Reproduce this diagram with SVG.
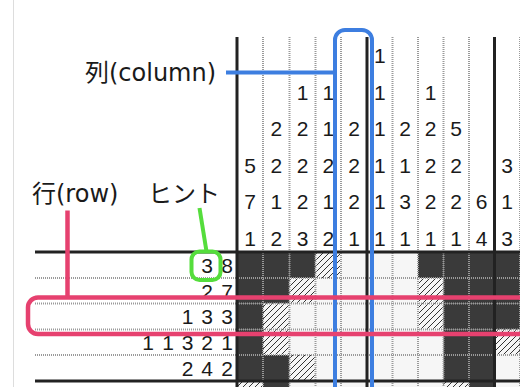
<svg xmlns="http://www.w3.org/2000/svg" width="520" height="387" viewBox="0 0 520 387">
<style>
.B{fill:#3a3a3a}
.W{fill:#f6f6f6}
.H{fill:url(#hatch)}
.thick{stroke:#222;stroke-width:3;fill:none}
.dot{stroke:#9a9a9a;stroke-width:2;stroke-dasharray:1 1;fill:none}
.hint{font-family:"Liberation Sans",Arial,sans-serif;font-size:21px;fill:#1a1a1a;text-anchor:middle}
.lbl{font-family:"DejaVu Sans","Noto Sans CJK JP",sans-serif;font-size:24px;fill:#1a1a1a}
.blue{stroke:#3d7ee0;stroke-width:4;fill:none}
.pink{stroke:#e6416f;stroke-width:4.5;fill:none}
.green{stroke:#55dd3c;stroke-width:4;fill:none}
</style>
<defs>
<pattern id="hatch" patternUnits="userSpaceOnUse" width="6" height="6">
<rect width="6" height="6" fill="#f6f6f6"/>
<path d="M0,6 L6,0 M-1,1 L1,-1 M5,7 L7,5" stroke="#333" stroke-width="1"/>
</pattern>
</defs>
<rect width="520" height="387" fill="#fff"/>
<line x1="13.5" y1="0" x2="13.5" y2="387" stroke="#ddd" stroke-width="1"/>
<g id="grid">
<!-- row 1 -->
<rect class="B" x="237" y="252" width="26" height="26"/>
<rect class="B" x="263" y="252" width="26.5" height="26"/>
<rect class="B" x="289.5" y="252" width="26" height="26"/>
<rect class="H" x="315.5" y="252" width="25.5" height="26"/>
<rect class="W" x="341" y="252" width="26" height="26"/>
<rect class="W" x="367" y="252" width="25.5" height="26"/>
<rect class="W" x="392.5" y="252" width="25.5" height="26"/>
<rect class="B" x="418" y="252" width="25.5" height="26"/>
<rect class="B" x="443.5" y="252" width="25.5" height="26"/>
<rect class="B" x="469" y="252" width="25.5" height="26"/>
<rect class="B" x="494.5" y="252" width="25.5" height="26"/>
<!-- row 2 -->
<rect class="B" x="237" y="278" width="26" height="25.5"/>
<rect class="B" x="263" y="278" width="26.5" height="25.5"/>
<rect class="H" x="289.5" y="278" width="26" height="25.5"/>
<rect class="W" x="315.5" y="278" width="25.5" height="25.5"/>
<rect class="W" x="341" y="278" width="26" height="25.5"/>
<rect class="W" x="367" y="278" width="25.5" height="25.5"/>
<rect class="W" x="392.5" y="278" width="25.5" height="25.5"/>
<rect class="H" x="418" y="278" width="25.5" height="25.5"/>
<rect class="B" x="443.5" y="278" width="25.5" height="25.5"/>
<rect class="B" x="469" y="278" width="25.5" height="25.5"/>
<rect class="B" x="494.5" y="278" width="25.5" height="25.5"/>
<!-- row 3 -->
<rect class="B" x="237" y="303.5" width="26" height="26"/>
<rect class="H" x="263" y="303.5" width="26.5" height="26"/>
<rect class="W" x="289.5" y="303.5" width="26" height="26"/>
<rect class="W" x="315.5" y="303.5" width="25.5" height="26"/>
<rect class="W" x="341" y="303.5" width="26" height="26"/>
<rect class="W" x="367" y="303.5" width="25.5" height="26"/>
<rect class="W" x="392.5" y="303.5" width="25.5" height="26"/>
<rect class="H" x="418" y="303.5" width="25.5" height="26"/>
<rect class="B" x="443.5" y="303.5" width="25.5" height="26"/>
<rect class="B" x="469" y="303.5" width="25.5" height="26"/>
<rect class="B" x="494.5" y="303.5" width="25.5" height="26"/>
<!-- row 4 -->
<rect class="B" x="237" y="329.5" width="26" height="25.5"/>
<rect class="H" x="263" y="329.5" width="26.5" height="25.5"/>
<rect class="W" x="289.5" y="329.5" width="26" height="25.5"/>
<rect class="W" x="315.5" y="329.5" width="25.5" height="25.5"/>
<rect class="W" x="341" y="329.5" width="26" height="25.5"/>
<rect class="W" x="367" y="329.5" width="25.5" height="25.5"/>
<rect class="W" x="392.5" y="329.5" width="25.5" height="25.5"/>
<rect class="W" x="418" y="329.5" width="25.5" height="25.5"/>
<rect class="B" x="443.5" y="329.5" width="25.5" height="25.5"/>
<rect class="B" x="469" y="329.5" width="25.5" height="25.5"/>
<rect class="H" x="494.5" y="329.5" width="25.5" height="25.5"/>
<!-- row 5 -->
<rect class="B" x="237" y="355" width="26" height="26"/>
<rect class="B" x="263" y="355" width="26.5" height="26"/>
<rect class="H" x="289.5" y="355" width="26" height="26"/>
<rect class="W" x="315.5" y="355" width="25.5" height="26"/>
<rect class="W" x="341" y="355" width="26" height="26"/>
<rect class="W" x="367" y="355" width="25.5" height="26"/>
<rect class="W" x="392.5" y="355" width="25.5" height="26"/>
<rect class="W" x="418" y="355" width="25.5" height="26"/>
<rect class="B" x="443.5" y="355" width="25.5" height="26"/>
<rect class="B" x="469" y="355" width="25.5" height="26"/>
<rect class="W" x="494.5" y="355" width="25.5" height="26"/>
<!-- row 6 -->
<rect class="H" x="237" y="381" width="26" height="26"/>
<rect class="B" x="263" y="381" width="26.5" height="26"/>
<rect class="W" x="289.5" y="381" width="26" height="26"/>
<rect class="W" x="315.5" y="381" width="25.5" height="26"/>
<rect class="W" x="341" y="381" width="26" height="26"/>
<rect class="W" x="367" y="381" width="25.5" height="26"/>
<rect class="W" x="392.5" y="381" width="25.5" height="26"/>
<rect class="W" x="418" y="381" width="25.5" height="26"/>
<rect class="H" x="443.5" y="381" width="25.5" height="26"/>
<rect class="B" x="469" y="381" width="25.5" height="26"/>
<rect class="W" x="494.5" y="381" width="25.5" height="26"/>
</g>
<g id="gridlines">
<path class="dot" d="M263,37V387 M289.5,37V387 M315.5,37V387 M341,37V387 M392.5,37V387 M418,37V387 M443.5,37V387 M469,37V387 M520,37V387"/>
<path class="dot" d="M35,278H520 M35,303.5H520 M35,329.5H520 M35,355H520"/>
<path class="thick" d="M237,37V387 M367,37V387 M494.5,37V387 M35,252H520 M35,381H520"/>
</g>
<g id="column-hints" class="hint">
<text x="250" y="172.8">5</text><text x="250" y="209.4">7</text><text x="250" y="246">1</text>
<text x="276.3" y="136.2">2</text><text x="276.3" y="172.8">2</text><text x="276.3" y="209.4">1</text><text x="276.3" y="246">2</text>
<text x="302.5" y="99.6">1</text><text x="302.5" y="136.2">2</text><text x="302.5" y="172.8">2</text><text x="302.5" y="209.4">2</text><text x="302.5" y="246">3</text>
<text x="328.3" y="99.6">1</text><text x="328.3" y="136.2">1</text><text x="328.3" y="172.8">2</text><text x="328.3" y="209.4">1</text><text x="328.3" y="246">2</text>
<text x="354" y="136.2">2</text><text x="354" y="172.8">2</text><text x="354" y="209.4">2</text><text x="354" y="246">1</text>
<text x="379.8" y="63">1</text><text x="379.8" y="99.6">1</text><text x="379.8" y="136.2">1</text><text x="379.8" y="172.8">1</text><text x="379.8" y="209.4">1</text><text x="379.8" y="246">1</text>
<text x="405.2" y="136.2">2</text><text x="405.2" y="172.8">1</text><text x="405.2" y="209.4">3</text><text x="405.2" y="246">1</text>
<text x="430.7" y="99.6">1</text><text x="430.7" y="136.2">2</text><text x="430.7" y="172.8">2</text><text x="430.7" y="209.4">2</text><text x="430.7" y="246">1</text>
<text x="456.2" y="136.2">5</text><text x="456.2" y="172.8">2</text><text x="456.2" y="209.4">2</text><text x="456.2" y="246">1</text>
<text x="481.7" y="209.4">6</text><text x="481.7" y="246">4</text>
<text x="507.2" y="172.8">3</text><text x="507.2" y="209.4">1</text><text x="507.2" y="246">3</text>
</g>
<g id="row-hints" class="hint">
<text x="207" y="272.8">3</text><text x="227" y="272.8">8</text>
<text x="207" y="298.5">2</text><text x="227" y="298.5">7</text>
<text x="187.5" y="324.3">1</text><text x="207" y="324.3">3</text><text x="227" y="324.3">3</text>
<text x="148" y="350">1</text><text x="168" y="350">1</text><text x="187.5" y="350">3</text><text x="207" y="350">2</text><text x="227" y="350">1</text>
<text x="187.5" y="375.8">2</text><text x="207" y="375.8">4</text><text x="227" y="375.8">2</text>
<text x="128.5" y="401.5">1</text><text x="148" y="401.5">1</text><text x="168" y="401.5">1</text><text x="187.5" y="401.5">1</text><text x="207" y="401.5">1</text><text x="227" y="401.5">1</text>
</g>
<g id="connectors">
<line class="blue" x1="226" y1="72.5" x2="335" y2="72.5"/>
<line class="pink" x1="67.5" y1="210.5" x2="67.5" y2="297.5"/>
<line class="green" x1="199.5" y1="208" x2="206.5" y2="251.5"/>
</g>
<g id="column-highlight">
<rect class="blue" x="335" y="30" width="37" height="400" rx="10"/>
</g>
<g id="row-highlight">
<rect class="pink" x="28" y="297.5" width="520" height="36.5" rx="10"/>
</g>
<g id="hint-highlight">
<rect class="green" x="191.5" y="251.5" width="29" height="28.5" rx="8"/>
</g>
<g id="label-column"><text class="lbl" x="85" y="80.5">列(column)</text></g>
<g id="label-row"><text class="lbl" x="32" y="201.5">行(row)</text></g>
<g id="label-hint"><text class="lbl" x="148" y="201.5">ヒント</text></g>
</svg>
